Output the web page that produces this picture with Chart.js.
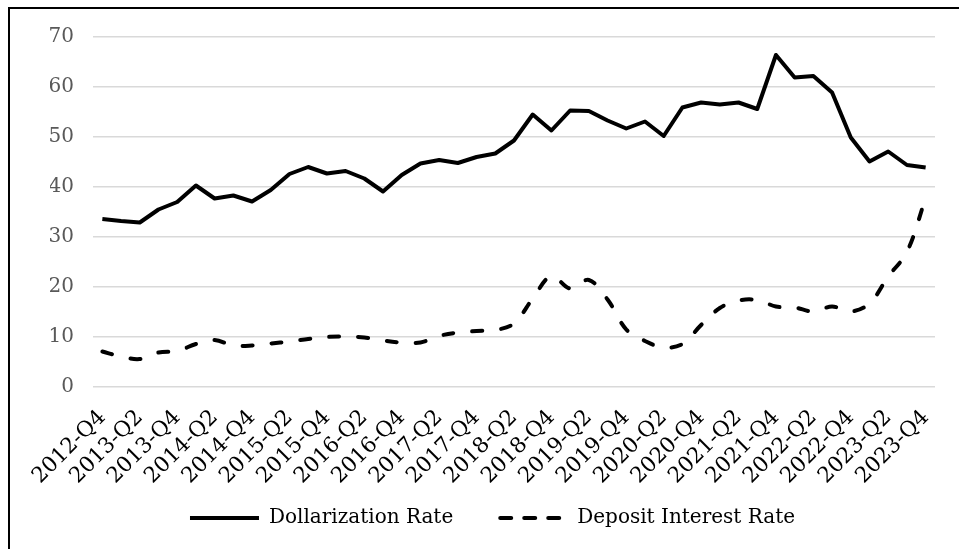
<!DOCTYPE html>
<html>
<head>
<meta charset="utf-8">
<script src="https://cdn.jsdelivr.net/npm/chart.js@4/dist/chart.umd.min.js"></script>
<style>
  html, body { margin: 0; padding: 0; background: #fff; overflow: hidden; }
  #wrap { position: relative; width: 959px; height: 549px; }
  #frame { position: absolute; left: 8px; top: 7px; width: 2000px; height: 2000px;
           border-left: 2px solid #000; border-top: 2px solid #000; box-sizing: border-box; }
  canvas { position: absolute; left: 0; top: 0; }
</style>
</head>
<body>
<div id="wrap">
  <div id="frame"></div>
  <canvas id="c" width="959" height="549"></canvas>
</div>
<script>
const quarters = [
  "2012-Q4","2013-Q1","2013-Q2","2013-Q3","2013-Q4",
  "2014-Q1","2014-Q2","2014-Q3","2014-Q4",
  "2015-Q1","2015-Q2","2015-Q3","2015-Q4",
  "2016-Q1","2016-Q2","2016-Q3","2016-Q4",
  "2017-Q1","2017-Q2","2017-Q3","2017-Q4",
  "2018-Q1","2018-Q2","2018-Q3","2018-Q4",
  "2019-Q1","2019-Q2","2019-Q3","2019-Q4",
  "2020-Q1","2020-Q2","2020-Q3","2020-Q4",
  "2021-Q1","2021-Q2","2021-Q3","2021-Q4",
  "2022-Q1","2022-Q2","2022-Q3","2022-Q4",
  "2023-Q1","2023-Q2","2023-Q3","2023-Q4"
];

const dollarizationRate = [
  33.6, 33.2, 32.9, 35.5, 37.0, 40.3, 37.7, 38.3, 37.1, 39.4,
  42.6, 44.0, 42.7, 43.2, 41.7, 39.1, 42.4, 44.7, 45.4, 44.8,
  46.0, 46.7, 49.3, 54.5, 51.3, 55.3, 55.2, 53.3, 51.7, 53.1,
  50.2, 55.9, 56.9, 56.5, 56.9, 55.6, 66.4, 61.9, 62.2, 58.9,
  49.9, 45.1, 47.1, 44.4, 43.9
];

const depositInterestRate = [
  7.1, 6.1, 5.6, 6.9, 7.2, 8.6, 9.4, 8.3, 8.3, 8.7,
  9.1, 9.6, 10.0, 10.1, 9.9, 9.3, 8.9, 8.9, 10.2, 10.9,
  11.2, 11.4, 12.7, 17.7, 22.2, 19.7, 21.4, 17.5, 11.5, 9.2,
  7.9, 8.6, 12.4, 15.8, 17.3, 17.4, 16.1, 15.9, 15.1, 16.1,
  15.1, 16.7, 22.1, 27.0, 37.8
];

const seriesNames = ["Dollarization Rate", "Deposit Interest Rate"];
const yMin = 0, yMax = 70, yStep = 10;

const FONT = "'DejaVu Serif', 'Liberation Serif', serif";

new Chart(document.getElementById('c'), {
  type: 'line',
  data: {
    labels: quarters,
    datasets: [
      {
        label: seriesNames[0],
        data: dollarizationRate,
        borderColor: '#000',
        backgroundColor: '#000',
        borderWidth: 4,
        borderJoinStyle: 'round',
        borderCapStyle: 'butt',
        pointRadius: 0,
        tension: 0
      },
      {
        label: seriesNames[1],
        data: depositInterestRate,
        borderColor: '#000',
        backgroundColor: '#000',
        borderWidth: 4,
        borderDash: [10, 19],
        borderCapStyle: 'round',
        borderJoinStyle: 'round',
        pointRadius: 0,
        tension: 0.35
      }
    ]
  },
  options: {
    responsive: false,
    devicePixelRatio: 1,
    animation: false,
    layout: { padding: { left: 50, right: 24, top: 37, bottom: 11 } },
    plugins: {
      tooltip: { enabled: false },
      legend: {
        position: 'bottom',
        align: 'center',
        labels: {
          usePointStyle: true,
          pointStyle: 'line',
          pointStyleWidth: 69,
          padding: 45,
          color: '#000',
          font: { family: FONT, size: 20 },
          generateLabels: function (chart) {
            const items = Chart.defaults.plugins.legend.labels.generateLabels(chart);
            items.forEach(function (it) {
              const ds = chart.data.datasets[it.datasetIndex];
              it.lineWidth = 4;
              it.strokeStyle = '#000';
              it.pointStyle = 'line';
              it.lineDash = ds.borderDash ? [11, 13] : [];
              it.lineCap = ds.borderDash ? 'round' : 'butt';
              it.lineDashOffset = ds.borderDash ? -2 : 0;
            });
            return items;
          }
        }
      }
    },
    scales: {
      x: {
        type: 'category',
        offset: true,
        grid: { display: false, drawTicks: false },
        border: { display: false },
        ticks: {
          autoSkip: false,
          minRotation: 45,
          maxRotation: 45,
          padding: 18,
          color: '#000',
          font: { family: FONT, size: 21.5 },
          callback: function (v, i) { return i % 2 === 0 ? quarters[i] : ''; }
        },
        afterFit: function (s) {
          s.height = 76;
          s.paddingLeft = 0;
          s.paddingRight = 0;
          s._computeLabelArea = function () { return undefined; };
        }
      },
      y: {
        min: yMin,
        max: yMax,
        grid: { color: '#d9d9d9', lineWidth: 1.5, drawTicks: false },
        border: { display: false },
        ticks: {
          stepSize: yStep,
          padding: 19,
          color: '#595959',
          font: { family: FONT, size: 20 }
        },
        afterFit: function (s) { s.width = 43; }
      }
    }
  }
});
</script>
</body>
</html>
